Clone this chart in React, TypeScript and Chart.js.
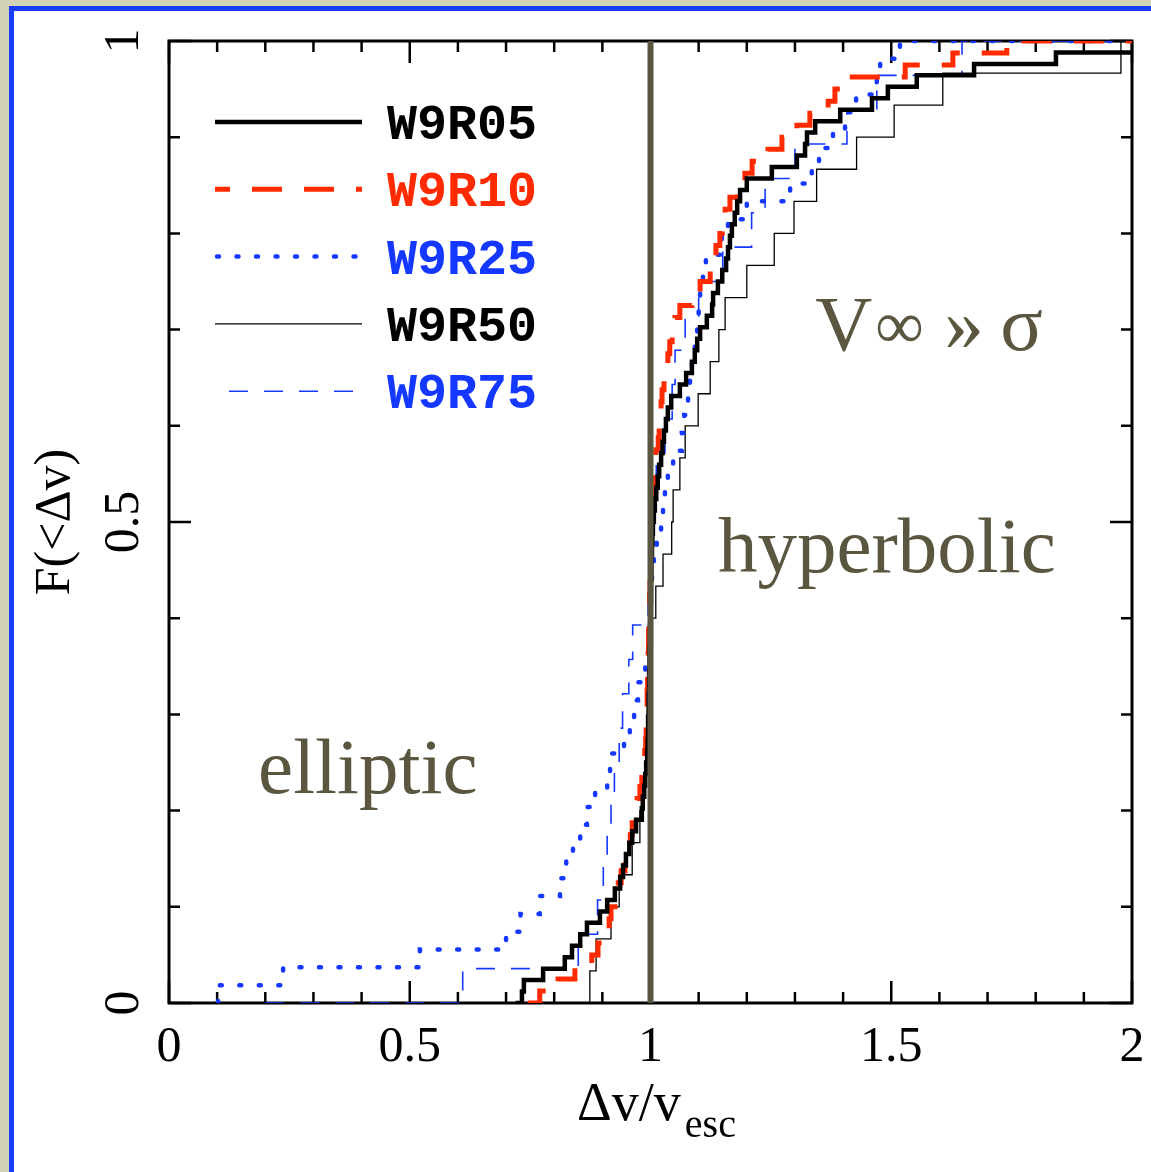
import React, { useEffect, useRef } from 'react';
import { Chart, registerables } from 'chart.js';

Chart.register(...registerables);

const seriesNames = ['W9R05', 'W9R10', 'W9R25', 'W9R50', 'W9R75'];

// sorted sample values of Δv / v_esc for each model
const w9r05Values = [
  0.733, 0.737, 0.777, 0.822, 0.837, 0.854, 0.868, 0.895, 0.91, 0.926,
  0.937, 0.943, 0.949, 0.956, 0.962, 0.97, 0.982, 0.984, 0.987, 0.989,
  0.991, 0.993, 0.994, 0.995, 0.995, 0.996, 0.996, 0.997, 0.997, 0.998,
  0.998, 0.999, 0.999, 1.0, 1.0, 1.001, 1.001, 1.002, 1.002, 1.003,
  1.004, 1.005, 1.007, 1.009, 1.012, 1.015, 1.018, 1.022, 1.025, 1.028,
  1.032, 1.036, 1.043, 1.061, 1.074, 1.086, 1.092, 1.097, 1.103, 1.117,
  1.128, 1.13, 1.14, 1.149, 1.157, 1.161, 1.165, 1.169, 1.175, 1.18,
  1.186, 1.2, 1.252, 1.304, 1.321, 1.325, 1.342, 1.394, 1.46, 1.493,
  1.553, 1.672, 1.842, 2.3,
];
const w9r10Values = [
  0.77, 0.808, 0.843, 0.878, 0.891, 0.905, 0.914, 0.918, 0.926, 0.933,
  0.939, 0.947, 0.953, 0.958, 0.962, 0.968, 0.972, 0.978, 0.982, 0.986,
  0.988, 0.99, 0.991, 0.992, 0.993, 0.993, 0.994, 0.994, 0.995, 0.996,
  0.996, 0.997, 0.998, 0.998, 0.999, 1.0, 1.0, 1.001, 1.002, 1.002,
  1.003, 1.004, 1.006, 1.007, 1.009, 1.011, 1.016, 1.018, 1.02, 1.022,
  1.024, 1.028, 1.032, 1.036, 1.04, 1.045, 1.051, 1.061, 1.086, 1.103,
  1.124, 1.13, 1.136, 1.144, 1.149, 1.155, 1.165, 1.18, 1.196, 1.211,
  1.244, 1.273, 1.304, 1.331, 1.369, 1.383, 1.398, 1.529, 1.628, 1.74,
];
const w9r25Values = [
  0.102, 0.237, 0.521, 0.7, 0.73, 0.77, 0.812, 0.825, 0.839, 0.854,
  0.868, 0.885, 0.91, 0.916, 0.945, 0.957, 0.966, 0.974, 0.989, 0.995,
  0.997, 0.999, 1.0, 1.003, 1.007, 1.013, 1.022, 1.026, 1.03, 1.036,
  1.047, 1.065, 1.07, 1.078, 1.082, 1.086, 1.092, 1.097, 1.1, 1.103,
  1.109, 1.115, 1.148, 1.161, 1.2, 1.29, 1.335, 1.35, 1.379, 1.404,
  1.427, 1.47, 1.477, 1.518,
];
const w9r50Values = [
  0.874, 0.887, 0.918, 0.935, 0.962, 0.978, 0.986, 0.991, 0.995, 0.998,
  1.0, 1.004, 1.011, 1.026, 1.044, 1.047, 1.061, 1.072, 1.099, 1.124,
  1.142, 1.155, 1.2, 1.257, 1.298, 1.345, 1.428, 1.506, 1.607, 1.977,
];
const w9r75Values = [
  0.61, 0.85, 0.89, 0.902, 0.91, 0.918, 0.925, 0.935, 0.942, 0.955,
  0.963, 0.995, 1.0, 1.005, 1.008, 1.012, 1.03, 1.045, 1.051, 1.072,
  1.1, 1.15, 1.21, 1.238, 1.3, 1.408, 1.47, 1.647,
];

// Δv / v_esc where each curve's F = 0 segment begins
const curveStarts = [0.72, 0.745, 0.102, 0.8, 0.2];

const xTickValues = [0, 0.5, 1, 1.5, 2];
const yTickValues = [0, 0.5, 1];
const yTickLabels = ['0', '0.5', '1'];
const escapeLine = 1;

const BLUE = '#1438ff';
const RED = '#ff2a00';
const OLIVE = '#5a5640';
const STYLES = [
  { color: '#000000', text: '#000000', width: 4.5, dash: [] as number[], cap: 'butt' },
  { color: RED, text: RED, width: 5, dash: [30, 22], cap: 'butt' },
  { color: BLUE, text: BLUE, width: 4.5, dash: [2, 17.5], cap: 'round' },
  { color: '#000000', text: '#000000', width: 1.3, dash: [] as number[], cap: 'butt' },
  { color: BLUE, text: BLUE, width: 1.6, dash: [19, 16], cap: 'butt' },
];

function ecdf(values: number[], start: number) {
  const n = values.length;
  const pts: { x: number; y: number }[] = [{ x: start, y: 0 }];
  values.forEach((v, i) => pts.push({ x: v, y: (i + 1) / n }));
  pts.push({ x: 2.5, y: 1 });
  return pts;
}

const SERIF = '"Liberation Serif", "Times New Roman", serif';

const customPlugin = {
  id: 'paperDecor',
  beforeDatasetsDraw(chart: any) {
    const { ctx, chartArea: a, scales } = chart;
    const xs = scales.x;
    const ys = scales.y;
    ctx.save();
    ctx.strokeStyle = '#000';
    ctx.lineWidth = 3;
    ctx.strokeRect(a.left, a.top, a.right - a.left, a.bottom - a.top);
    ctx.lineWidth = 2.5;
    ctx.beginPath();
    for (let k = 0; k <= 20; k++) {
      const px = xs.getPixelForValue(k / 10);
      const len = k % 5 === 0 ? 22 : 11;
      ctx.moveTo(px, a.bottom);
      ctx.lineTo(px, a.bottom - len);
      ctx.moveTo(px, a.top);
      ctx.lineTo(px, a.top + len);
    }
    for (let k = 0; k <= 10; k++) {
      const py = ys.getPixelForValue(k / 10);
      const len = k % 5 === 0 ? 22 : 11;
      ctx.moveTo(a.left, py);
      ctx.lineTo(a.left + len, py);
      ctx.moveTo(a.right, py);
      ctx.lineTo(a.right - len, py);
    }
    ctx.stroke();
    ctx.restore();
  },
  afterDatasetsDraw(chart: any) {
    const { ctx, chartArea: a, scales } = chart;
    const xs = scales.x;
    const ys = scales.y;
    ctx.save();

    // y tick labels (rotated)
    ctx.fillStyle = '#000';
    ctx.font = `50px ${SERIF}`;
    ctx.textAlign = 'center';
    ctx.textBaseline = 'alphabetic';
    yTickValues.forEach((v, i) => {
      ctx.save();
      ctx.translate(a.left - 31, ys.getPixelForValue(v));
      ctx.rotate(-Math.PI / 2);
      ctx.fillText(yTickLabels[i], 0, 0);
      ctx.restore();
    });

    // x axis title with subscript
    ctx.textAlign = 'left';
    ctx.font = `54px ${SERIF}`;
    const main = 'Δv/v';
    const wMain = ctx.measureText(main).width;
    ctx.font = `40px ${SERIF}`;
    const wSub = ctx.measureText('esc').width;
    const cx = (a.left + a.right) / 2 + 6;
    const x0 = cx - (wMain + 4 + wSub) / 2;
    ctx.font = `54px ${SERIF}`;
    ctx.fillText(main, x0, a.bottom + 117);
    ctx.font = `40px ${SERIF}`;
    ctx.fillText('esc', x0 + wMain + 4, a.bottom + 134);

    // legend
    seriesNames.forEach((name, i) => {
      const st = STYLES[i];
      const y = a.top + 81 + i * 67.3;
      ctx.save();
      ctx.strokeStyle = st.color;
      ctx.lineWidth = st.width;
      ctx.lineCap = st.cap as CanvasLineCap;
      ctx.setLineDash(st.dash);
      if (i === 1) ctx.lineDashOffset = 15;
      ctx.beginPath();
      ctx.moveTo(a.left + (i === 4 ? 60 : i === 2 ? 48 : 46), y);
      ctx.lineTo(a.left + 193, y);
      ctx.stroke();
      ctx.restore();
      ctx.fillStyle = st.text;
      ctx.font = `bold 50px "Liberation Mono", "Courier New", monospace`;
      ctx.textAlign = 'left';
      ctx.textBaseline = 'alphabetic';
      ctx.fillText(name, a.left + 218, y + 17);
    });

    // region annotations
    ctx.fillStyle = OLIVE;
    ctx.textAlign = 'left';
    ctx.textBaseline = 'alphabetic';
    ctx.font = `79px ${SERIF}`;
    ctx.fillText('hyperbolic', xs.getPixelForValue(1.14), ys.getPixelForValue(0.448));
    ctx.fillText('elliptic', xs.getPixelForValue(0.185), ys.getPixelForValue(0.218));
    const vx = xs.getPixelForValue(1.342);
    const vy = ys.getPixelForValue(0.679);
    ctx.fillText('V', vx, vy);
    ctx.font = `68px ${SERIF}`;
    ctx.fillText('∞', vx + 60, vy - 2);
    ctx.font = `79px ${SERIF}`;
    ctx.fillText('»', vx + 129, vy);
    ctx.fillText('σ', vx + 185, vy);

    ctx.restore();
  },
};

export default function App() {
  const canvasRef = useRef<HTMLCanvasElement | null>(null);

  useEffect(() => {
    document.body.style.margin = '0';
    const canvas = canvasRef.current;
    if (!canvas) return;
    const allValues = [w9r05Values, w9r10Values, w9r25Values, w9r50Values, w9r75Values];
    const datasets: any[] = allValues.map((vals, i) => ({
      label: seriesNames[i],
      data: ecdf(vals, curveStarts[i]),
      borderColor: STYLES[i].color,
      borderWidth: STYLES[i].width,
      borderDash: STYLES[i].dash,
      borderCapStyle: STYLES[i].cap,
      borderJoinStyle: 'miter',
      stepped: 'before',
      pointRadius: 0,
      fill: false,
      order: 1,
    }));
    datasets.push({
      label: 'v_esc',
      data: [
        { x: escapeLine, y: 0 },
        { x: escapeLine, y: 1 },
      ],
      borderColor: OLIVE,
      borderWidth: 6,
      pointRadius: 0,
      fill: false,
      order: 0,
    });

    const chart = new Chart(canvas, {
      type: 'line',
      data: { datasets },
      options: {
        animation: false,
        responsive: false,
        devicePixelRatio: 1,
        layout: { padding: { left: 0, right: 19, top: 41, bottom: 0 } },
        plugins: { legend: { display: false }, tooltip: { enabled: false } },
        scales: {
          x: {
            type: 'linear',
            min: 0,
            max: 2,
            grid: { display: false, drawTicks: false },
            border: { display: false },
            afterBuildTicks: (s: any) => {
              s.ticks = xTickValues.map((v) => ({ value: v }));
            },
            afterFit: (s: any) => {
              s.height = 169;
              s.paddingLeft = 0;
              s.paddingRight = 0;
            },
            ticks: {
              autoSkip: false,
              maxRotation: 0,
              minRotation: 0,
              padding: 15,
              color: '#000',
              font: { family: SERIF, size: 50 },
              callback: (v: any) => String(v),
            },
          },
          y: {
            type: 'linear',
            min: 0,
            max: 1,
            grid: { display: false, drawTicks: false },
            border: { display: false },
            ticks: { display: false },
            afterFit: (s: any) => {
              s.width = 169;
              s.paddingTop = 0;
              s.paddingBottom = 0;
            },
            title: {
              display: true,
              text: 'F(<Δv)',
              color: '#000',
              font: { family: SERIF, size: 50 },
              padding: { top: 26, bottom: 0 },
            },
          },
        },
      },
      plugins: [customPlugin],
    });
    return () => chart.destroy();
  }, []);

  return (
    <div
      style={{
        position: 'relative',
        width: 1151,
        height: 1172,
        background: '#d3d1b6',
        overflow: 'hidden',
      }}
    >
      <div
        style={{
          position: 'absolute',
          left: 9,
          top: 6,
          right: -20,
          bottom: -20,
          borderLeft: '5px solid #1a3cff',
          borderTop: '5px solid #1a3cff',
          background: '#ffffff',
        }}
      />
      <canvas
        ref={canvasRef}
        width={1151}
        height={1172}
        style={{ position: 'absolute', left: 0, top: 0, width: 1151, height: 1172 }}
      />
    </div>
  );
}
